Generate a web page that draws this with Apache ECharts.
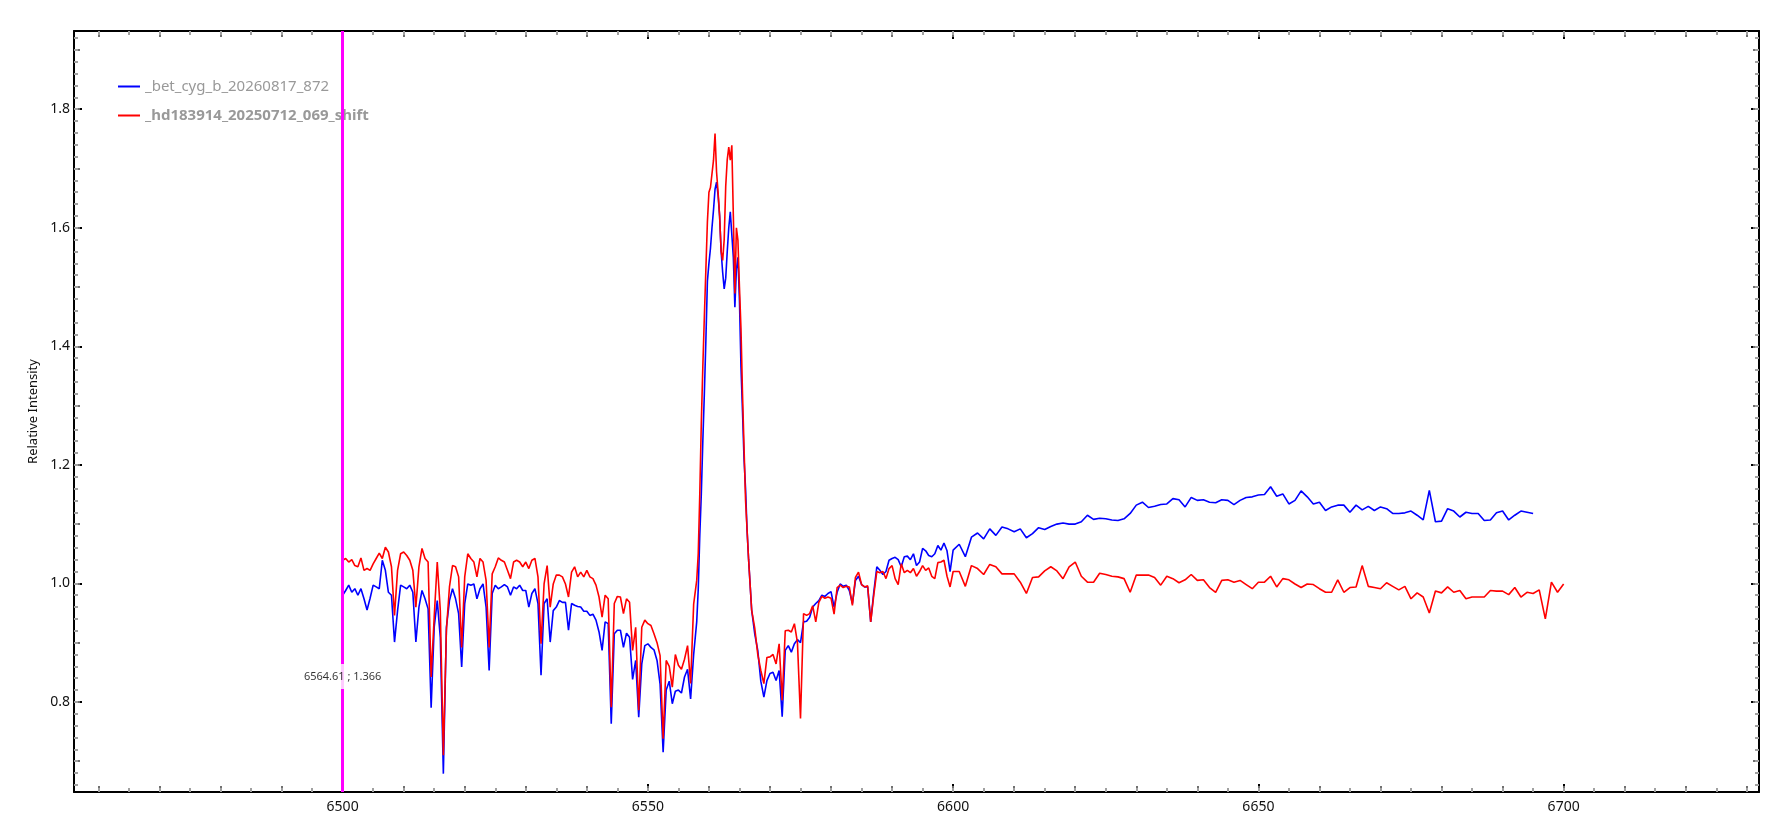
<!DOCTYPE html>
<html>
<head>
<meta charset="utf-8">
<script src="https://cdn.jsdelivr.net/npm/echarts@6/dist/echarts.min.js"></script>
<style>
  html, body { margin: 0; padding: 0; background: #fff; }
  #spectrum { width: 1771px; height: 819px; }
</style>
</head>
<body>
<div id="spectrum"></div>
<script>
// wavelengths (Angstrom), blue wing 6500-6558 every 0.5
const lambdaWing = [
  6500,6500.5,6501,6501.5,6502,6502.5,6503,6503.5,6504,6504.5,
  6505,6505.5,6506,6506.5,6507,6507.5,6508,6508.5,6509,6509.5,
  6510,6510.5,6511,6511.5,6512,6512.5,6513,6513.5,6514,6514.5,
  6515,6515.5,6516,6516.5,6517,6517.5,6518,6518.5,6519,6519.5,
  6520,6520.5,6521,6521.5,6522,6522.5,6523,6523.5,6524,6524.5,
  6525,6525.5,6526,6526.5,6527,6527.5,6528,6528.5,6529,6529.5,
  6530,6530.5,6531,6531.5,6532,6532.5,6533,6533.5,6534,6534.5,
  6535,6535.5,6536,6536.5,6537,6537.5,6538,6538.5,6539,6539.5,
  6540,6540.5,6541,6541.5,6542,6542.5,6543,6543.5,6544,6544.5,
  6545,6545.5,6546,6546.5,6547,6547.5,6548,6548.5,6549,6549.5,
  6550,6550.5,6551,6551.5,6552,6552.5,6553,6553.5,6554,6554.5,
  6555,6555.5,6556,6556.5,6557,6557.5,6558
];
// H-alpha core every 0.25
const lambdaCore = [
  6558.25,6558.5,6558.75,6559,6559.25,6559.5,6559.75,6560,6560.25,6560.5,
  6560.75,6561,6561.25,6561.5,6561.75,6562,6562.25,6562.5,6562.75,6563,
  6563.25,6563.5,6563.75,6564,6564.25,6564.5,6564.75,6565,6565.25,6565.5,
  6565.75,6566,6566.25,6566.5
];
const lambdaRedWing = [
  6567,6567.5,6568,6568.5,6569,6569.5,6570,6570.5,6571,6571.5,
  6572,6572.5,6573,6573.5,6574,6574.5,6575,6575.5,6576,6576.5,
  6577,6577.5,6578,6578.5,6579,6579.5,6580,6580.5,6581,6581.5,
  6582,6582.5,6583,6583.5,6584,6584.5,6585,6585.5,6586,6586.5,
  6587,6587.5,6588,6588.5,6589,6589.5,6590,6590.5,6591,6591.5,
  6592,6592.5,6593,6593.5,6594,6594.5,6595,6595.5,6596,6596.5,
  6597,6597.5,6598,6598.5,6599,6599.5,6600
];
const lambdaFar = [
  6601,6602,6603,6604,6605,6606,6607,6608,6609,6610,
  6611,6612,6613,6614,6615,6616,6617,6618,6619,6620,
  6621,6622,6623,6624,6625,6626,6627,6628,6629,6630,
  6631,6632,6633,6634,6635,6636,6637,6638,6639,6640,
  6641,6642,6643,6644,6645,6646,6647,6648,6649,6650,
  6651,6652,6653,6654,6655,6656,6657,6658,6659,6660,
  6661,6662,6663,6664,6665,6666,6667,6668,6669,6670,
  6671,6672,6673,6674,6675,6676,6677,6678,6679,6680,
  6681,6682,6683,6684,6685,6686,6687,6688,6689,6690,
  6691,6692,6693,6694,6695,6696,6697,6698,6699,6700
];

// _bet_cyg_b_20260817_872 (blue)
const betWing = [
  0.980,0.988,0.997,0.985,0.991,0.980,0.991,0.974,0.955,0.975,
  0.997,0.994,0.991,1.039,1.022,0.985,0.980,0.901,0.954,0.997,
  0.994,0.991,0.997,0.985,0.901,0.960,0.988,0.974,0.957,0.790,
  0.926,0.971,0.909,0.679,0.926,0.971,0.991,0.974,0.949,0.859,
  0.966,0.999,0.997,0.999,0.974,0.991,0.999,0.960,0.853,0.983,
  0.997,0.991,0.994,0.998,0.994,0.980,0.994,0.991,0.997,0.988,
  0.988,0.960,0.983,0.991,0.966,0.845,0.966,0.974,0.901,0.954,
  0.960,0.971,0.968,0.968,0.921,0.966,0.963,0.961,0.960,0.953,
  0.953,0.946,0.948,0.938,0.918,0.887,0.935,0.932,0.763,0.915,
  0.921,0.921,0.892,0.916,0.909,0.838,0.870,0.774,0.864,0.895,
  0.898,0.892,0.888,0.870,0.830,0.715,0.820,0.835,0.797,0.818,
  0.820,0.815,0.842,0.855,0.805,0.880,0.935
];
const betCore = [
  0.990,1.080,1.150,1.240,1.320,1.410,1.510,1.540,1.565,1.600,
  1.630,1.665,1.677,1.655,1.620,1.560,1.525,1.497,1.515,1.560,
  1.600,1.627,1.625,1.550,1.466,1.530,1.550,1.478,1.365,1.290,
  1.210,1.160,1.089,1.040
];
const betRedWing = [
  0.955,0.915,0.887,0.835,0.808,0.836,0.848,0.850,0.836,0.853,
  0.775,0.887,0.895,0.884,0.898,0.905,0.900,0.935,0.936,0.943,
  0.960,0.966,0.971,0.980,0.978,0.983,0.986,0.960,0.985,0.999,
  0.995,0.997,0.988,0.966,1.005,1.012,0.998,0.994,0.994,0.935,
  0.985,1.028,1.022,1.015,1.020,1.039,1.042,1.044,1.040,1.028,
  1.045,1.046,1.040,1.050,1.030,1.036,1.059,1.055,1.047,1.045,
  1.050,1.064,1.056,1.068,1.055,1.020,1.056
];
const betFar = [
  1.066,1.045,1.078,1.085,1.075,1.092,1.081,1.095,1.092,1.087,
  1.092,1.077,1.084,1.094,1.091,1.096,1.100,1.102,1.100,1.100,
  1.104,1.115,1.108,1.110,1.109,1.107,1.106,1.109,1.118,1.132,
  1.137,1.128,1.130,1.133,1.134,1.143,1.141,1.129,1.145,1.140,
  1.141,1.137,1.136,1.141,1.140,1.133,1.140,1.145,1.146,1.149,
  1.150,1.163,1.147,1.151,1.134,1.140,1.156,1.146,1.134,1.137,
  1.123,1.129,1.132,1.132,1.120,1.132,1.124,1.130,1.123,1.129,
  1.126,1.118,1.118,1.119,1.122,1.115,1.107,1.157,1.104,1.105,
  1.126,1.122,1.112,1.120,1.118,1.118,1.106,1.107,1.119,1.122,
  1.107,1.115,1.122,1.120,1.118
];

// _hd183914_20250712_069_shift (red)
const hdWing = [
  1.039,1.042,1.036,1.040,1.030,1.028,1.043,1.022,1.025,1.022,
  1.033,1.042,1.051,1.042,1.061,1.053,1.028,0.946,1.022,1.050,
  1.053,1.047,1.039,1.022,0.960,1.028,1.059,1.042,1.036,0.842,
  0.943,1.036,0.954,0.710,0.921,0.994,1.030,1.028,1.011,0.892,
  1.011,1.050,1.042,1.036,1.011,1.042,1.036,1.005,0.892,1.016,
  1.028,1.043,1.039,1.036,1.022,1.008,1.036,1.039,1.036,1.028,
  1.036,1.025,1.039,1.042,1.011,0.898,0.999,1.030,0.960,0.999,
  1.014,1.014,1.011,0.999,0.977,1.019,1.028,1.011,1.019,1.011,
  1.022,1.011,1.008,0.997,0.977,0.943,0.980,0.974,0.791,0.966,
  0.978,0.977,0.949,0.974,0.968,0.887,0.926,0.786,0.926,0.938,
  0.932,0.929,0.915,0.900,0.878,0.738,0.870,0.860,0.825,0.880,
  0.862,0.855,0.872,0.895,0.831,0.965,1.005
];
const hdCore = [
  1.050,1.150,1.270,1.365,1.450,1.530,1.610,1.660,1.668,1.670,
  1.714,1.759,1.694,1.660,1.620,1.560,1.545,1.580,1.670,1.715,
  1.736,1.714,1.739,1.620,1.489,1.600,1.579,1.500,1.430,1.320,
  1.230,1.140,1.090,1.040
];
const hdRedWing = [
  0.955,0.925,0.880,0.853,0.831,0.875,0.876,0.880,0.864,0.898,
  0.803,0.920,0.921,0.918,0.932,0.900,0.772,0.949,0.946,0.949,
  0.962,0.935,0.968,0.978,0.975,0.977,0.975,0.948,0.993,0.997,
  0.993,0.995,0.994,0.963,1.010,1.019,0.998,0.994,0.996,0.935,
  0.980,1.020,1.018,1.020,1.008,1.025,1.030,1.008,0.998,1.033,
  1.018,1.022,1.018,1.025,1.012,1.020,1.030,1.022,1.026,1.012,
  1.008,1.035,1.036,1.039,1.012,0.994,1.020
];
const hdFar = [
  1.020,0.995,1.030,1.025,1.015,1.032,1.028,1.016,1.016,1.016,
  1.002,0.983,1.010,1.011,1.021,1.028,1.021,1.008,1.028,1.036,
  1.012,1.002,1.002,1.017,1.015,1.012,1.011,1.008,0.985,1.014,
  1.014,1.014,1.010,0.997,1.012,1.008,1.001,1.006,1.015,1.005,
  1.006,0.993,0.985,1.005,1.006,1.002,1.005,0.998,0.991,1.002,
  1.002,1.012,0.994,1.008,1.006,0.999,0.993,0.999,0.998,0.991,
  0.985,0.985,1.006,0.985,0.993,0.994,1.030,0.995,0.993,0.991,
  1.001,0.995,0.989,0.995,0.974,0.984,0.977,0.950,0.987,0.984,
  0.994,0.985,0.988,0.974,0.977,0.977,0.977,0.988,0.987,0.987,
  0.981,0.993,0.977,0.985,0.983,0.989,0.940,1.002,0.985,0.999
];

const seriesNames = ['_bet_cyg_b_20260817_872', '_hd183914_20250712_069_shift'];
const xTickLabels = [6500, 6550, 6600, 6650, 6700];
const yTickLabels = [0.8, 1.0, 1.2, 1.4, 1.6, 1.8];
const xRange = [6456, 6732];
const yRange = [0.648, 1.932];
const cursorWave = 6500;
const cursorText = '6564.61 ; 1.366';
const cursorLabelY = 0.843;

window.addEventListener('load', function() {
  const chart = echarts.init(document.getElementById('spectrum'));
  const FONT = 'Noto Sans';

  function pairs(waves, fluxes) {
    return fluxes.map(function(f, i) { return [waves[i], f]; });
  }
  const lambdaAll = lambdaWing.concat(lambdaCore, lambdaRedWing, lambdaFar);
  const betAll = betWing.concat(betCore, betRedWing, betFar);
  const hdAll = hdWing.concat(hdCore, hdRedWing, hdFar);

  // tick positions for the medium and small ticks
  function steps(lo, hi, step) {
    const out = [];
    for (let v = Math.ceil(lo / step - 1e-9) * step; v <= hi + 1e-9; v += step) {
      out.push(Math.round(v * 1000) / 1000);
    }
    return out;
  }

  function xAxis(pos, ticks, len, color, width, main) {
    return {
      type: 'value', position: pos, min: xRange[0], max: xRange[1],
      axisLine: { show: main, onZero: false, lineStyle: { color: '#000', width: 2 } },
      axisTick: { show: true, inside: true, length: len, customValues: ticks,
                  lineStyle: { color: color, width: width } },
      axisLabel: (main && pos === 'bottom')
        ? { show: true, customValues: xTickLabels, margin: 8, color: '#111',
            fontFamily: FONT, fontSize: 14,
            formatter: function(v) { return String(Math.round(v)); } }
        : { show: false },
      splitLine: { show: false }
    };
  }
  function yAxis(pos, ticks, len, color, width, main) {
    const ax = {
      type: 'value', position: pos, min: yRange[0], max: yRange[1],
      axisLine: { show: main, onZero: false, lineStyle: { color: '#000', width: 2 } },
      axisTick: { show: true, inside: true, length: len, customValues: ticks,
                  lineStyle: { color: color, width: width } },
      axisLabel: (main && pos === 'left')
        ? { show: true, customValues: yTickLabels, margin: 4, color: '#111',
            fontFamily: FONT, fontSize: 14,
            formatter: function(v) { return v.toFixed(1); } }
        : { show: false },
      splitLine: { show: false }
    };
    if (main && pos === 'left') {
      ax.name = 'Relative Intensity';
      ax.nameLocation = 'middle';
      ax.nameGap = 34;
      ax.nameTextStyle = { color: '#111', fontFamily: FONT, fontSize: 13 };
    }
    return ax;
  }

  const xMid = steps(xRange[0], xRange[1], 10);
  const xSmall = steps(xRange[0], xRange[1], 5);
  const yMid = steps(yRange[0], yRange[1], 0.1);
  const ySmall = steps(yRange[0], yRange[1], 0.02);

  const option = {
    backgroundColor: '#fff',
    animation: false,
    grid: { left: 74, right: 12, top: 31, bottom: 27, containLabel: false },
    legend: {
      orient: 'vertical', left: 113, top: 74,
      icon: 'rect', itemWidth: 22, itemHeight: 2, itemGap: 14,
      textStyle: { color: '#999', fontFamily: FONT, fontSize: 15 },
      data: [
        { name: seriesNames[0] },
        { name: seriesNames[1], textStyle: { fontWeight: 'bold' } }
      ]
    },
    xAxis: [
      xAxis('bottom', xTickLabels, 8, '#000', 2, true),
      xAxis('bottom', xMid, 6, '#707070', 2, false),
      xAxis('bottom', xSmall, 4, '#a0a0a0', 2, false),
      xAxis('top', xTickLabels, 8, '#000', 2, true),
      xAxis('top', xMid, 6, '#707070', 2, false),
      xAxis('top', xSmall, 4, '#a0a0a0', 2, false)
    ],
    yAxis: [
      yAxis('left', yTickLabels, 8, '#000', 2, true),
      yAxis('left', yMid, 6, '#707070', 2, false),
      yAxis('left', ySmall, 4, '#a0a0a0', 2, false),
      yAxis('right', yTickLabels, 8, '#000', 2, true),
      yAxis('right', yMid, 6, '#707070', 2, false),
      yAxis('right', ySmall, 4, '#a0a0a0', 2, false)
    ],
    series: [
      {
        name: seriesNames[0], type: 'line', showSymbol: false, z: 2,
        data: pairs(lambdaAll, betAll),
        lineStyle: { color: '#0000ff', width: 1.6 },
        itemStyle: { color: '#0000ff' }
      },
      {
        name: seriesNames[1], type: 'line', showSymbol: false, z: 3,
        data: pairs(lambdaAll, hdAll),
        lineStyle: { color: '#ff0000', width: 1.6 },
        itemStyle: { color: '#ff0000' }
      },
      {
        name: 'cursor', type: 'line', z: 4, silent: true,
        data: [],
        markLine: {
          silent: true, symbol: ['none', 'none'],
          label: { show: false },
          lineStyle: { color: '#ff00ff', width: 3, type: 'solid' },
          data: [{ xAxis: cursorWave }]
        }
      },
      {
        name: 'readout', type: 'scatter', z: 6, silent: true,
        symbolSize: 1, itemStyle: { color: 'rgba(0,0,0,0)' },
        data: [[cursorWave, cursorLabelY]],
        label: {
          show: true, position: 'inside', formatter: cursorText,
          color: '#000', fontFamily: FONT, fontSize: 11,
          backgroundColor: '#fff', padding: [7, 1]
        }
      }
    ]
  };

  chart.setOption(option);

  window.addEventListener('resize', function() {
    chart.resize();
  });
});
</script>
</body>
</html>
